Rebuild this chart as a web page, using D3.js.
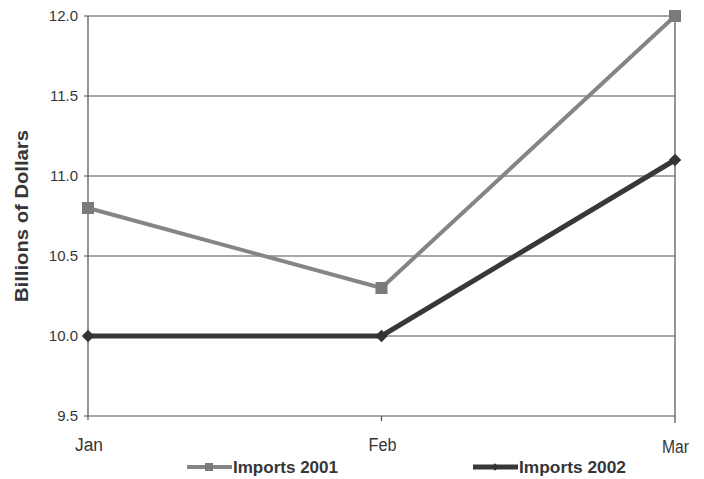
<!DOCTYPE html>
<html><head><meta charset="utf-8">
<script src="https://cdn.jsdelivr.net/npm/d3@7"></script>
<style>body{margin:0;background:#fff}svg{display:block}text{font-family:"Liberation Sans",Arial,sans-serif;fill:#363636}</style>
</head><body>
<script>
const months = ["Jan","Feb","Mar"];
const imports2001 = [10.8, 10.3, 12.0];
const imports2002 = [10.0, 10.0, 11.1];
const yTicks = [9.5, 10.0, 10.5, 11.0, 11.5, 12.0];
const seriesNames = ["Imports 2001","Imports 2002"];

const W = 704, H = 479;
const svg = d3.select("body").append("svg").attr("width", W).attr("height", H);
const x = d3.scalePoint().domain(months).range([88, 675]);
const y = d3.scaleLinear().domain([9.5, 12.0]).range([416, 16]);
const gridColor = "#4c534b";

// gridlines
svg.append("g").selectAll("line").data(yTicks).join("line")
  .attr("x1", 84).attr("x2", 675)
  .attr("y1", d => y(d)).attr("y2", d => y(d))
  .attr("stroke", gridColor).attr("stroke-width", 1.2);
// axes verticals
svg.append("line").attr("x1", 88).attr("x2", 88).attr("y1", y(12)).attr("y2", y(9.5) + 4)
  .attr("stroke", gridColor).attr("stroke-width", 1.2);
svg.append("line").attr("x1", 675).attr("x2", 675).attr("y1", y(12)).attr("y2", y(9.5) + 7)
  .attr("stroke", gridColor).attr("stroke-width", 1.2);
svg.append("line").attr("x1", x("Feb")).attr("x2", x("Feb")).attr("y1", y(9.5)).attr("y2", y(9.5) + 5)
  .attr("stroke", gridColor).attr("stroke-width", 1.2);

// y labels
svg.append("g").selectAll("text").data(yTicks).join("text")
  .attr("x", 78).attr("y", d => y(d) + 5)
  .attr("text-anchor", "end").attr("font-size", 15)
  .text(d => d.toFixed(1));
// x labels
const xl = [
  {size: 18, len: 28, base: 451, dx: 1},
  {size: 18, len: 28, base: 451, dx: 1},
  {size: 17.5, len: 27, base: 453, dx: 0.5}
];
svg.append("g").selectAll("text").data(months).join("text")
  .attr("x", (d, i) => x(d) + xl[i].dx).attr("y", (d, i) => xl[i].base)
  .attr("text-anchor", "middle").attr("font-size", (d, i) => xl[i].size)
  .attr("textLength", (d, i) => xl[i].len).attr("lengthAdjust", "spacingAndGlyphs")
  .text(d => d);
// y title
svg.append("text").attr("transform", "translate(28,216) rotate(-90)")
  .attr("text-anchor", "middle").attr("font-size", 18).attr("font-weight", "bold")
  .attr("textLength", 172).attr("lengthAdjust", "spacingAndGlyphs")
  .text("Billions of Dollars");

const line = d3.line().x((d, i) => x(months[i])).y(d => y(d));
const c2001 = "#858585", c2002 = "#383838";
svg.append("path").datum(imports2001).attr("d", line)
  .attr("fill", "none").attr("stroke", c2001).attr("stroke-width", 4);
svg.append("path").datum(imports2002).attr("d", line)
  .attr("fill", "none").attr("stroke", c2002).attr("stroke-width", 5);

svg.append("g").selectAll("rect").data(imports2001).join("rect")
  .attr("x", (d, i) => x(months[i]) - 6).attr("y", d => y(d) - 6)
  .attr("width", 12).attr("height", 12).attr("fill", "#7a7a7a");
const diamond = d3.symbol().type(d3.symbolDiamond2).size(100);
svg.append("g").selectAll("path").data(imports2002).join("path")
  .attr("transform", (d, i) => `translate(${x(months[i])},${y(d)})`)
  .attr("d", diamond).attr("fill", "#333");

// legend
const leg = svg.append("g");
const items = [
  {name: seriesNames[0], x0: 187, color: c2001, w: 4, mk: "sq"},
  {name: seriesNames[1], x0: 473, color: c2002, w: 5, mk: "di"}
];
items.forEach(it => {
  const ly = 467;
  leg.append("line").attr("x1", it.x0).attr("x2", it.x0 + 45).attr("y1", ly).attr("y2", ly)
    .attr("stroke", it.color).attr("stroke-width", it.w);
  if (it.mk === "sq") {
    leg.append("rect").attr("x", it.x0 + 18).attr("y", ly - 4).attr("width", 8).attr("height", 8).attr("fill", "#7a7a7a");
  } else {
    leg.append("path").attr("transform", `translate(${it.x0 + 22},${ly})`)
      .attr("d", d3.symbol().type(d3.symbolDiamond2).size(36)).attr("fill", "#333");
  }
  leg.append("text").attr("x", it.x0 + 46).attr("y", ly + 6)
    .attr("font-size", 17).attr("font-weight", "bold")
    .attr("textLength", it.mk === "sq" ? 105 : 107).attr("lengthAdjust", "spacingAndGlyphs").text(it.name);
});
</script>
</body></html>
